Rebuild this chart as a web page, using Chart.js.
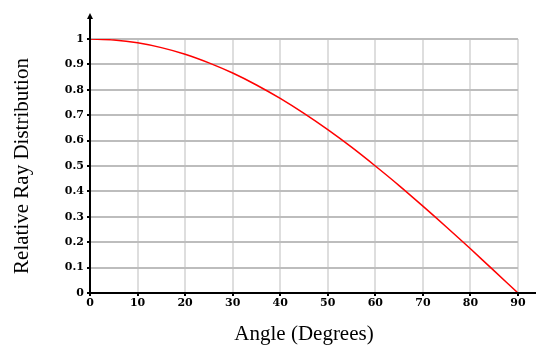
<!DOCTYPE html>
<html>
<head>
<meta charset="utf-8">
<script src="https://cdn.jsdelivr.net/npm/chart.js@4"></script>
<style>
  html, body { margin: 0; padding: 0; background: #fff; }
  #wrap { width: 536px; height: 347px; }
</style>
</head>
<body>
<div id="wrap"><canvas id="rayChart" width="536" height="347"></canvas></div>
<script>
// angle in degrees
const angles = [0, 5, 10, 15, 20, 25, 30, 35, 40, 45, 50, 55, 60, 65, 70, 75, 80, 85, 90];
const rayDistribution = [1, 0.996, 0.985, 0.966, 0.94, 0.906, 0.866, 0.819, 0.766, 0.707,
    0.643, 0.574, 0.5, 0.423, 0.342, 0.259, 0.174, 0.087, 0];
const xTicks = [0, 10, 20, 30, 40, 50, 60, 70, 80, 90];
const yTicks = [0, 0.1, 0.2, 0.3, 0.4, 0.5, 0.6, 0.7, 0.8, 0.9, 1];

const serif = '"Liberation Serif", "DejaVu Serif", serif';
const tickFont = '"DejaVu Serif", serif';

// black axes: y axis runs past the top with an arrow, x axis runs to the edge
const axesPlugin = {
    id: 'axes',
    afterDraw(chart) {
        const { ctx, chartArea, width } = chart;
        const x0 = chart.scales.x.getPixelForValue(0);
        const y0 = chart.scales.y.getPixelForValue(0);
        ctx.save();
        ctx.strokeStyle = '#000';
        ctx.fillStyle = '#000';
        ctx.lineWidth = 2;
        ctx.beginPath();
        ctx.moveTo(x0, y0);
        ctx.lineTo(x0, chartArea.top - 22);
        ctx.moveTo(x0 - 1, y0);
        ctx.lineTo(width, y0);
        ctx.stroke();
        ctx.beginPath();
        ctx.moveTo(x0, chartArea.top - 26);
        ctx.lineTo(x0 - 3, chartArea.top - 20);
        ctx.lineTo(x0 + 3, chartArea.top - 20);
        ctx.closePath();
        ctx.fill();
        ctx.restore();
    }
};

new Chart(document.getElementById('rayChart'), {
    type: 'line',
    data: {
        datasets: [{
            data: angles.map((a, i) => ({ x: a, y: rayDistribution[i] })),
            borderColor: '#ff0000',
            borderWidth: 1.5,
            pointRadius: 0,
            tension: 0.3,
            fill: false
        }]
    },
    options: {
        responsive: false,
        animation: false,
        layout: { padding: { top: 39, right: 18, left: 0, bottom: 0 } },
        plugins: {
            legend: { display: false },
            tooltip: { enabled: false }
        },
        scales: {
            x: {
                type: 'linear',
                min: 0,
                max: 90,
                afterFit: (s) => { s.height = 54; },
                afterBuildTicks: (s) => { s.ticks = xTicks.map(v => ({ value: v })); },
                border: { display: false },
                grid: { color: '#dedede', lineWidth: 2, tickLength: 3, tickColor: '#000' },
                ticks: {
                    color: '#000',
                    padding: 1,
                    maxRotation: 0,
                    font: { family: tickFont, size: 11, weight: 'bold' }
                },
                title: {
                    display: true,
                    text: 'Angle (Degrees)',
                    color: '#000',
                    padding: { top: 0, bottom: 0 },
                    font: { family: serif, size: 21 }
                }
            },
            y: {
                min: 0,
                max: 1,
                afterFit: (s) => { s.width = 90; },
                afterBuildTicks: (s) => { s.ticks = yTicks.map(v => ({ value: v })); },
                border: { display: false },
                grid: { color: '#bdbdbd', lineWidth: 2, tickLength: 3, tickColor: '#000' },
                ticks: {
                    color: '#000',
                    padding: 3,
                    font: { family: tickFont, size: 11, weight: 'bold' },
                    callback: (v) => String(v)
                },
                title: {
                    display: true,
                    text: 'Relative Ray Distribution',
                    color: '#000',
                    padding: { top: 10, bottom: 0 },
                    font: { family: serif, size: 21 }
                }
            }
        }
    },
    plugins: [axesPlugin]
});
</script>
</body>
</html>
